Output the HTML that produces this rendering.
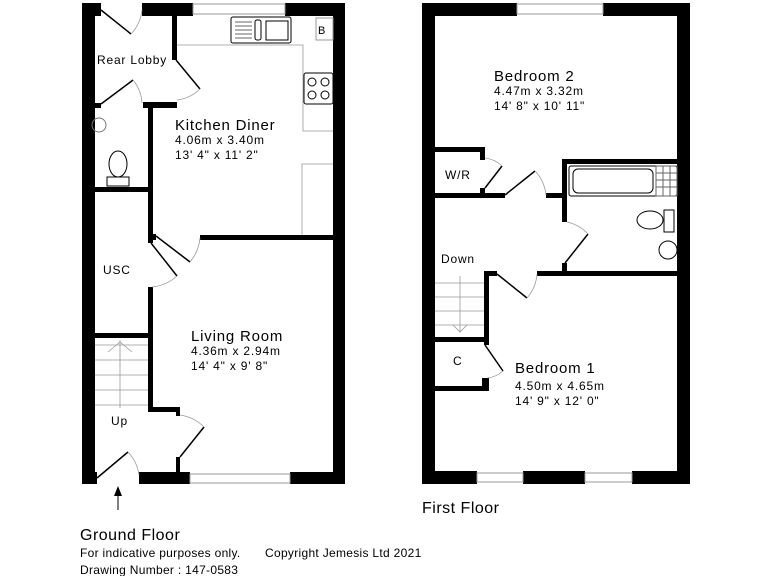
<!DOCTYPE html>
<html><head><meta charset="utf-8"><style>
html,body{margin:0;padding:0;background:#fff;}
svg{display:block;font-family:"Liberation Sans",sans-serif;}
</style></head><body>
<svg width="768" height="576" viewBox="0 0 768 576" xmlns="http://www.w3.org/2000/svg">
<g fill="#000">
<rect x="82" y="3" width="13" height="481"/>
<rect x="82" y="3" width="19" height="13"/>
<rect x="142" y="3" width="51" height="13"/>
<rect x="285" y="3" width="60" height="13"/>
<rect x="333" y="3" width="12" height="481"/>
<rect x="82" y="472" width="15" height="12"/>
<rect x="139" y="472" width="51" height="12"/>
<rect x="290" y="472" width="55" height="12"/>
<rect x="172" y="13" width="5" height="47"/>
<rect x="93" y="103" width="8" height="5"/>
<rect x="143" y="102" width="34" height="6"/>
<rect x="148" y="102" width="5" height="141"/>
<rect x="93" y="187" width="55" height="5"/>
<rect x="148" y="234" width="8" height="6"/>
<rect x="200" y="235" width="145" height="5"/>
<rect x="148" y="287" width="5" height="125"/>
<rect x="93" y="333" width="55" height="5"/>
<rect x="148" y="407" width="32" height="5"/>
<rect x="176" y="407" width="4" height="9"/>
<rect x="176" y="457" width="4" height="16"/>
<rect x="422" y="3" width="13" height="481"/>
<rect x="422" y="3" width="95" height="13"/>
<rect x="603" y="3" width="87" height="13"/>
<rect x="677" y="3" width="13" height="481"/>
<rect x="422" y="471" width="55" height="13"/>
<rect x="523" y="471" width="62" height="13"/>
<rect x="632" y="471" width="58" height="13"/>
<rect x="435" y="147" width="50" height="5"/>
<rect x="480" y="147" width="5" height="13"/>
<rect x="435" y="193" width="70" height="5"/>
<rect x="480" y="188" width="5" height="10"/>
<rect x="546" y="193" width="21" height="5"/>
<rect x="562" y="159" width="5" height="63"/>
<rect x="562" y="159" width="115" height="5"/>
<rect x="562" y="263" width="5" height="12"/>
<rect x="484" y="271" width="13" height="5"/>
<rect x="537" y="271" width="140" height="5"/>
<rect x="484" y="271" width="5" height="74"/>
<rect x="435" y="337" width="54" height="5"/>
<rect x="482" y="378" width="7" height="13"/>
<rect x="435" y="386" width="54" height="5"/>
</g>
<g fill="none" stroke="#999" stroke-width="1">
<rect x="193" y="4" width="92" height="10"/>
<rect x="190" y="474" width="100" height="9"/>
<rect x="517" y="4" width="86" height="10"/>
<rect x="477" y="473" width="46" height="9"/>
<rect x="585" y="473" width="47" height="9"/>
</g>
<g stroke="#000" stroke-width="1.5" fill="none">
<line x1="101" y1="10" x2="131" y2="34"/>
<line x1="176" y1="60" x2="200" y2="89"/>
<line x1="101" y1="104" x2="133" y2="80"/>
<line x1="156" y1="236" x2="190" y2="262"/>
<line x1="151" y1="243" x2="177" y2="276"/>
<line x1="180" y1="457" x2="204" y2="427"/>
<line x1="97" y1="478" x2="128" y2="452"/>
<line x1="485" y1="188" x2="502" y2="166"/>
<line x1="505" y1="195" x2="535" y2="171"/>
<line x1="565" y1="263" x2="588" y2="234"/>
<line x1="497" y1="274" x2="527" y2="298"/>
<line x1="485" y1="345" x2="503" y2="371"/>
</g>
<g stroke="#999" stroke-width="0.8" fill="none">
<path d="M142 10 A41 41 0 0 1 131 34"/>
<path d="M200 89 A40 40 0 0 1 177 100"/>
<path d="M133 80 A40 40 0 0 1 142 103"/>
<path d="M190 262 A44 44 0 0 0 200 238"/>
<path d="M177 276 A44 44 0 0 1 152 287"/>
<path d="M204 427 A43 43 0 0 0 180 415"/>
<path d="M128 452 A42 42 0 0 1 139 475"/>
<path d="M502 166 A30 30 0 0 0 485 158"/>
<path d="M535 171 A41 41 0 0 1 546 195"/>
<path d="M588 234 A41 41 0 0 0 567 222"/>
<path d="M527 298 A41 41 0 0 0 537 274"/>
<path d="M503 371 A28 28 0 0 1 487 378"/>
<path d="M177 45 H303 V131 H333"/>
<path d="M333 164 H302 V235"/>
<path d="M95 345 H148 M95 360 H148 M95 375 H148 M95 390 H148 M95 405 H148 M120 340 V408 M108 352 L120 342 L132 352"/>
<path d="M435 283 H484 M435 297 H484 M435 311 H484 M435 325 H484 M460 276 V332 M453 325 L460 332 L467 325"/>
</g>
<g stroke="#000" stroke-width="1" fill="none">
<rect x="231" y="17" width="60" height="26" rx="2"/>
<rect x="255" y="20" width="6" height="20" rx="2"/>
<rect x="266" y="21" width="22" height="19"/>
<g stroke="#666"><line x1="235" y1="22" x2="252" y2="22"/><line x1="235" y1="26" x2="252" y2="26"/><line x1="235" y1="30" x2="252" y2="30"/><line x1="235" y1="34" x2="252" y2="34"/><line x1="235" y1="38" x2="252" y2="38"/></g>
<rect x="316" y="18" width="17" height="22" stroke="#999"/>
<rect x="304" y="73" width="29" height="31" rx="2"/>
<circle cx="312" cy="82" r="4"/><circle cx="325" cy="82" r="4"/><circle cx="312" cy="95" r="4"/><circle cx="325" cy="95" r="4"/>
<circle cx="99" cy="125" r="7" stroke="#777"/>
<ellipse cx="118" cy="164" rx="9" ry="13"/>
<rect x="107" y="177" width="22" height="9"/>
<rect x="569" y="166" width="108" height="30" rx="2"/>
<rect x="573" y="169" width="80" height="24" rx="5"/>
<rect x="656" y="166" width="21" height="30" stroke="#666"/>
<path d="M663 166 V196 M670 166 V196 M656 173 H677 M656 180 H677 M656 187 H677" stroke="#666"/>
<ellipse cx="650" cy="220" rx="13" ry="9"/>
<rect x="664" y="210" width="10" height="22"/>
<ellipse cx="668" cy="250" rx="9" ry="9"/>
</g>
<line x1="118" y1="488" x2="118" y2="510" stroke="#000" stroke-width="1"/>
<polygon points="114,496 118,486 122,496" fill="#000"/>
<g fill="#000" font-size="12" letter-spacing="0.8">
<text x="97" y="64">Rear Lobby</text>
<text x="318" y="34" font-size="11" letter-spacing="0">B</text>
<text x="175" y="130" font-size="15">Kitchen Diner</text>
<text x="175" y="144">4.06m x 3.40m</text>
<text x="175" y="159">13' 4" x 11' 2"</text>
<text x="103" y="274">USC</text>
<text x="191" y="341" font-size="15">Living Room</text>
<text x="191" y="355">4.36m x 2.94m</text>
<text x="191" y="370">14' 4" x 9' 8"</text>
<text x="111" y="425">Up</text>
<text x="494" y="81" font-size="15">Bedroom 2</text>
<text x="494" y="95">4.47m x 3.32m</text>
<text x="494" y="110">14' 8" x 10' 11"</text>
<text x="445" y="179">W/R</text>
<text x="441" y="263">Down</text>
<text x="453" y="365">C</text>
<text x="515" y="373" font-size="15">Bedroom 1</text>
<text x="515" y="390">4.50m x 4.65m</text>
<text x="515" y="405">14' 9" x 12' 0"</text>
<text x="80" y="540" font-size="16" letter-spacing="0.5">Ground Floor</text>
<text x="422" y="513" font-size="16" letter-spacing="0.5">First Floor</text>
<text x="80" y="557" font-size="12" letter-spacing="0.3">For indicative purposes only.</text>
<text x="265" y="557" font-size="12" letter-spacing="0.3">Copyright Jemesis Ltd 2021</text>
<text x="80" y="574" font-size="12" letter-spacing="0.3">Drawing Number : 147-0583</text>
</g>
</svg>
</body></html>
